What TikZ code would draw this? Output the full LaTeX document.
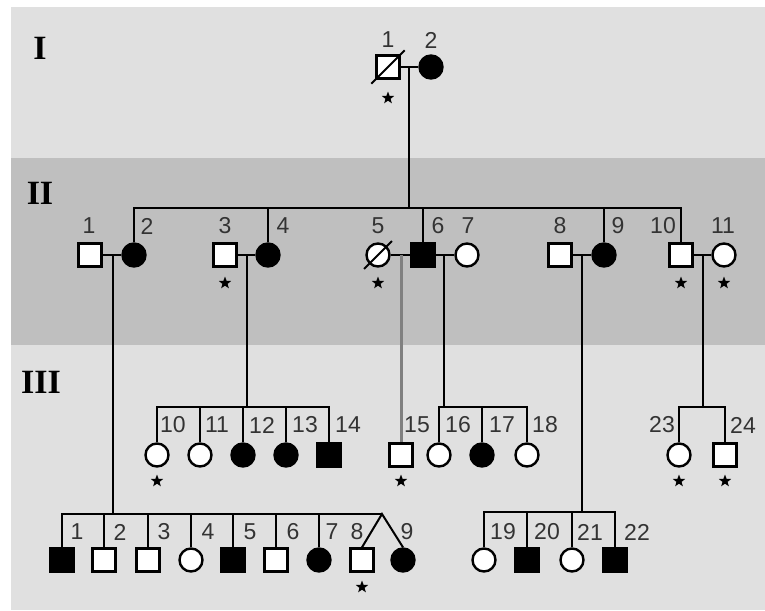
\documentclass[tikz,border=0pt]{standalone}
\usepackage{fontspec}
\setmainfont{Liberation Serif}
\setsansfont{Liberation Sans}
\usetikzlibrary{shapes.geometric}

\begin{document}
\begin{tikzpicture}[x=1pt,y=-1pt,line width=2pt,
		male/.style={draw,rectangle,minimum size=23pt,inner sep=0pt,fill=white,line width=2.4pt},
		female/.style={draw,circle,minimum size=23pt,inner sep=0pt,fill=white,line width=2.4pt},
		affected/.style={fill=black},
		num/.style={font=\sffamily\fontsize{23}{23}\selectfont,text=black!80,inner sep=0pt},
		tested/.style={star,star points=5,star point ratio=2.4,fill=black,minimum size=13pt,inner sep=0pt},
		gen/.style={font=\bfseries\fontsize{34}{34}\selectfont,inner sep=0pt}]
				\useasboundingbox (0,0) rectangle (765,610);
				% bands
				\fill[white] (0,0) rectangle (765,610);
				\fill[black!12] (11,7) rectangle (765,610);
				\fill[black!25] (11,158) rectangle (765,345);
				
				\node[gen] at (40,48) (g1){I};
				\node[gen] at (40,193) (g2){II};
				\node[gen] at (41,382) (g3){III};
				
				%Generation I
				\node[male] at (388,67) (i1){};
				\node[female,affected] at (431,67) (i2){};
				\draw (i1) -- (i2);
				\draw ([shift={(-4,4)}]i1.south west) -- ([shift={(4,-4)}]i1.north east);
				\node[tested] at (388,98) (i1_star){};
				\node[num] at (388,40) (i1_num){1};
				\node[num] at (431,40) (i2_num){2};
				\coordinate (m_i) at (409,67);
				\coordinate (s_ii) at (409,208);
				\draw (m_i) -- (s_ii);
				
				%Generation II
				\node[male] at (90,255) (ii1){};
				\node[female,affected] at (134,255) (ii2){};
				\node[male] at (225,255) (ii3){};
				\node[female,affected] at (268,255) (ii4){};
				\node[female] at (378,255) (ii5){};
				\node[male,affected] at (423,255) (ii6){};
				\node[female] at (467,255) (ii7){};
				\node[male] at (560,255) (ii8){};
				\node[female,affected] at (604,255) (ii9){};
				\node[male] at (681,255) (ii10){};
				\node[female] at (724,255) (ii11){};
				\draw ([shift={(-5,5)}]ii5.south west) -- ([shift={(5,-5)}]ii5.north east);
				% sibship II
				\foreach \k in {2,4,6,9,10}
				\draw (ii\k.north) |- (s_ii);
				% marriages II
				\draw (ii1) -- (ii2);
				\draw (ii3) -- (ii4);
				\draw (ii5) -- (ii6);
				\draw (ii6) -- (ii7);
				\draw (ii8) -- (ii9);
				\draw (ii10) -- (ii11);
				%numbers II
				\node[num] at (89,226) (ii1_num){1};
				\node[num] at (147,226) (ii2_num){2};
				\node[num] at (225,226) (ii3_num){3};
				\node[num] at (283,226) (ii4_num){4};
				\node[num] at (378,226) (ii5_num){5};
				\node[num] at (438,226) (ii6_num){6};
				\node[num] at (468,226) (ii7_num){7};
				\node[num] at (560,226) (ii8_num){8};
				\node[num] at (618,226) (ii9_num){9};
				\node[num] at (663,226) (ii10_num){10};
				\node[num] at (723,226) (ii11_num){11};
				%stars II
				\node[tested] at (225,283) (ii3_star){};
				\node[tested] at (378,283) (ii5_star){};
				\node[tested] at (681,283) (ii10_star){};
				\node[tested] at (724,283) (ii11_star){};
				
				%Generation III, upper row
				\node[female] at (157,455) (iii10){};
				\node[female] at (200,455) (iii11){};
				\node[female,affected] at (243,455) (iii12){};
				\node[female,affected] at (286,455) (iii13){};
				\node[male,affected] at (329,455) (iii14){};
				\node[male] at (401,455) (iii15){};
				\node[female] at (439,455) (iii16){};
				\node[female,affected] at (482,455) (iii17){};
				\node[female] at (527,455) (iii18){};
				\node[female] at (679,455) (iii23){};
				\node[male] at (725,455) (iii24){};
				
				%Generation III, lower row
				\node[male,affected] at (62,560) (iii1){};
				\node[male] at (104,560) (iii2){};
				\node[male] at (148,560) (iii3){};
				\node[female] at (191,560) (iii4){};
				\node[male,affected] at (233,560) (iii5){};
				\node[male] at (276,560) (iii6){};
				\node[female,affected] at (319,560) (iii7){};
				\node[male] at (362,560) (iii8){};
				\node[female,affected] at (403,560) (iii9){};
				\node[female] at (484,560) (iii19){};
				\node[male,affected] at (527,560) (iii20){};
				\node[female] at (572,560) (iii21){};
				\node[male,affected] at (615,560) (iii22){};
				
				%children of II 1 and 2
				\coordinate (m_ii12) at (113,255);
				\coordinate (s_iii12) at (113,514);
				\coordinate (twin) at (382,514);
				\draw (m_ii12) -- (s_iii12) -- (twin);
				\foreach \k in {1,...,7}
				\draw (iii\k.north) |- (s_iii12);
				\draw (iii8.north) -- (twin) -- (iii9.north);
				
				%children of II 3 and 4
				\coordinate (m_ii34) at (247,255);
				\coordinate (s_iii34) at (247,407);
				\draw (m_ii34) -- (s_iii34);
				\foreach \k in {10,...,14}
				\draw (iii\k.north) |- (s_iii34);
				
				%child of II 5 and 6
				\coordinate (m_ii56) at (401,255);
				\draw[black!50,line width=3pt] (m_ii56) -- (iii15.north);
				
				%children of II 6 and 7
				\coordinate (m_ii67) at (444,255);
				\coordinate (s_iii67) at (444,407);
				\draw (m_ii67) -- (s_iii67);
				\foreach \k in {16,17,18}
				\draw (iii\k.north) |- (s_iii67);
				
				%children of II 8 and 9
				\coordinate (m_ii89) at (582,255);
				\coordinate (s_iii89) at (582,512);
				\draw (m_ii89) -- (s_iii89);
				\foreach \k in {19,...,22}
				\draw (iii\k.north) |- (s_iii89);
				
				%children of II 10 and 11
				\coordinate (m_ii1011) at (703,255);
				\coordinate (s_iii1011) at (703,407);
				\draw (m_ii1011) -- (s_iii1011);
				\draw (iii23.north) |- (s_iii1011);
				\draw (iii24.north) |- (s_iii1011);
				
				%numbers III
				\node[num] at (173,425) (iii10_num){10};
				\node[num] at (217,425) (iii11_num){11};
				\node[num] at (262,425) (iii12_num){12};
				\node[num] at (305,425) (iii13_num){13};
				\node[num] at (348,425) (iii14_num){14};
				\node[num] at (417,425) (iii15_num){15};
				\node[num] at (458,425) (iii16_num){16};
				\node[num] at (502,425) (iii17_num){17};
				\node[num] at (545,425) (iii18_num){18};
				\node[num] at (662,425) (iii23_num){23};
				\node[num] at (743,425) (iii24_num){24};
				\node[num] at (77,532) (iii1_num){1};
				\node[num] at (120,532) (iii2_num){2};
				\node[num] at (164,532) (iii3_num){3};
				\node[num] at (208,532) (iii4_num){4};
				\node[num] at (250,532) (iii5_num){5};
				\node[num] at (293,532) (iii6_num){6};
				\node[num] at (332,532) (iii7_num){7};
				\node[num] at (357,532) (iii8_num){8};
				\node[num] at (407,532) (iii9_num){9};
				\node[num] at (503,532) (iii19_num){19};
				\node[num] at (547,532) (iii20_num){20};
				\node[num] at (590,532) (iii21_num){21};
				\node[num] at (637,532) (iii22_num){22};
				
				%stars III
				\node[tested] at (157,481) (iii10_star){};
				\node[tested] at (401,481) (iii15_star){};
				\node[tested] at (679,481) (iii23_star){};
				\node[tested] at (725,481) (iii24_star){};
				\node[tested] at (362,587) (iii8_star){};
			\end{tikzpicture}
\end{document}
